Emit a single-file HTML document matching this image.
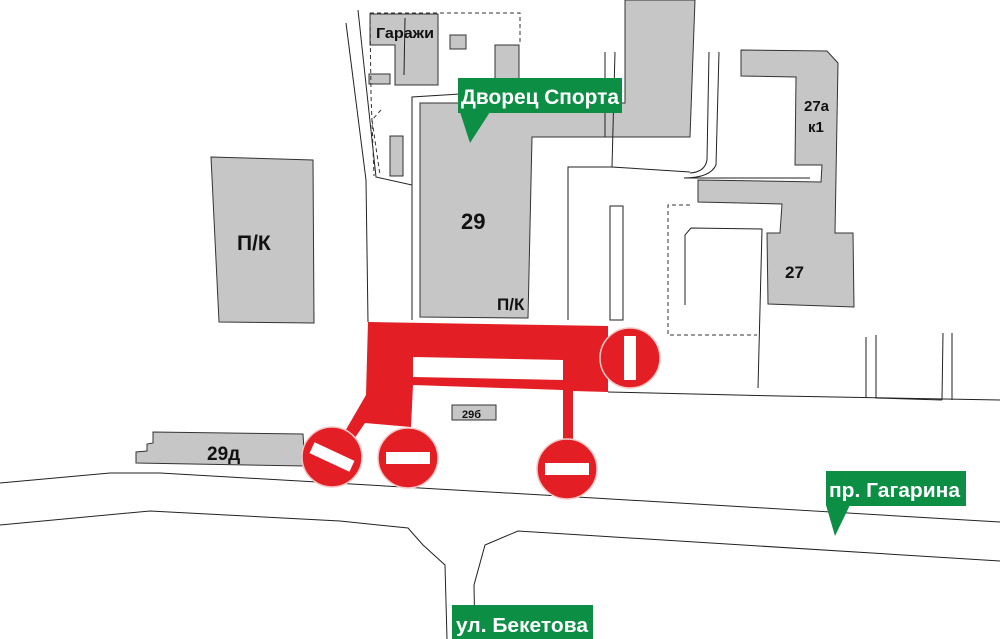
<!DOCTYPE html>
<html><head><meta charset="utf-8"><style>
html,body{margin:0;padding:0;background:#fff;}
svg{display:block;}
text{font-family:"Liberation Sans",sans-serif;font-weight:bold;}
</style></head><body>
<svg width="1000" height="639" viewBox="0 0 1000 639" xmlns="http://www.w3.org/2000/svg">
<g fill="#c6c6c6" stroke="#333" stroke-width="1">
<polygon points="211,157 313,160 314,323 219,322"/>
<polygon points="420,103 625,103 625,0 695,0 690,137 532,137 528,318 420,317"/>
<polygon points="370,14 438,14 438,85 395,85 395,45 370,45"/>
<rect x="450" y="35" width="16" height="14"/>
<rect x="495" y="45" width="24" height="40"/>
<rect x="369" y="74" width="21" height="10"/>
<rect x="390" y="136" width="13" height="40"/>
<polygon points="741,50 827,51 838,63 835,233 853,233 854,307 768,304 767,233 780,233 782,204 698,202 698,180 821,182 822,165 795,165 796,77 741,76"/>
<polygon points="153,432 303,434 305,466 136,463 136,452 147,451 147,444 153,443"/>
<rect x="452" y="405" width="44" height="15"/>
</g>
<g fill="none" stroke="#222" stroke-width="1">
<polyline points="346,23 366,180 368,322"/>
<polyline points="358,10 376,177 412,185 412,320"/>
<polyline points="412,185 412,97 460,94"/>
<line x1="405" y1="18" x2="404" y2="75"/>
<polyline points="605,52 605,137"/>
<polyline points="615,52 612,167 690,172"/>
<polyline points="568,320 568,167 612,167"/>
<rect x="610" y="206" width="13" height="114"/>
<path d="M709,52 L707,160 Q705,172 690,173"/>
<path d="M719,52 L716,165 Q710,178 684,178 L810,178"/>
<polyline points="685,305 685,235 691,228 762,229 758,388"/>
<polyline points="608,392 780,396 1000,400"/>
<polyline points="866,337 866,398"/>
<polyline points="876,335 876,398 942,400"/>
<polyline points="943,333 942,400"/>
<polyline points="952,333 952,400"/>
<polyline points="0,483 110,473 160,473 560,496 1000,522"/>
<polyline points="0,525 150,511 340,521 408,528 423,545 445,565 447,639"/>
<polyline points="475,639 474,585 485,545 518,531 1000,561"/>
</g>
<g fill="none" stroke="#333" stroke-width="1" stroke-dasharray="4,3">
<polyline points="370,13 520,13 520,45"/>
<polyline points="370,13 371,95 374,176"/>
<polyline points="381,110 372,120 380,175"/>
<polyline points="690,205 668,205 668,335 757,335"/>
</g>
<path fill="#e31e24" fill-rule="evenodd" d="M368,322 L608,326 L608,392 L573,391 L573,440 L563,440 L563,390 L413,385 L411,427 L365,423 L350,445 L340,440 L366,395 Z M413,357 L563,360 L563,380 L413,377 Z"/>
<g stroke="#f3c7c7" stroke-width="1.5" fill="#e31e24">
<circle cx="332" cy="457" r="30"/>
<circle cx="408" cy="458" r="30"/>
<circle cx="567" cy="469" r="30"/>
<circle cx="630" cy="358" r="30"/>
</g>
<g fill="#fff">
<rect x="310" y="451" width="44" height="12" transform="rotate(25 332 457)"/>
<rect x="386" y="452" width="44" height="12"/>
<rect x="545" y="463" width="44" height="12"/>
<rect x="624" y="336" width="12" height="44"/>
</g>
<g fill="#111">
<text x="376" y="38" font-size="15" textLength="58" lengthAdjust="spacingAndGlyphs">Гаражи</text>
<text x="237" y="250" font-size="21">П/К</text>
<text x="461" y="229" font-size="22">29</text>
<text x="497" y="310" font-size="17">П/К</text>
<text x="804" y="111" font-size="15">27а</text>
<text x="808" y="132" font-size="15">к1</text>
<text x="785" y="278" font-size="17">27</text>
<text x="462" y="418" font-size="11">29б</text>
<text x="207" y="460" font-size="19">29д</text>
</g>
<g fill="#0c8e45">
<rect x="458" y="78" width="164" height="35"/>
<polygon points="460,112 490,112 470,143"/>
<rect x="826" y="471" width="140" height="35"/>
<polygon points="826,505 850,505 835,536"/>
<rect x="452" y="605" width="141" height="34"/>
</g>
<g fill="#fff">
<text x="461" y="104" font-size="21" textLength="158" lengthAdjust="spacingAndGlyphs">Дворец Спорта</text>
<text x="829" y="497" font-size="20" textLength="131" lengthAdjust="spacingAndGlyphs">пр. Гагарина</text>
<text x="456" y="632" font-size="20" textLength="132" lengthAdjust="spacingAndGlyphs">ул. Бекетова</text>
</g>
</svg>
</body></html>
